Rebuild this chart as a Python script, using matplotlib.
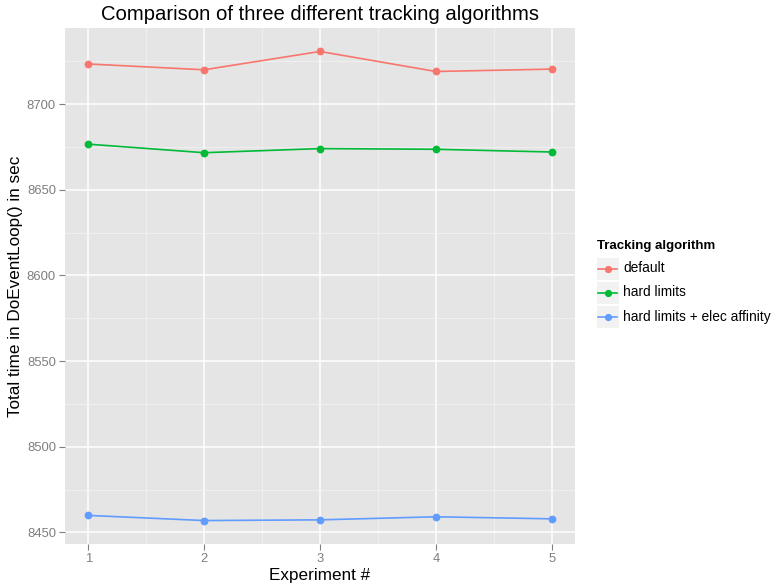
import matplotlib
matplotlib.use("Agg")
import matplotlib.pyplot as plt
from matplotlib.patches import Rectangle
from matplotlib.lines import Line2D

plt.rcParams["font.family"] = ["Liberation Sans", "DejaVu Sans"]

experiments = [1, 2, 3, 4, 5]
default = [8723.4, 8720.0, 8730.7, 8719.0, 8720.4]
hard_limits = [8676.6, 8671.6, 8674.0, 8673.6, 8672.0]
hard_limits_affinity = [8459.9, 8456.9, 8457.3, 8459.1, 8457.9]

series_names = ["default", "hard limits", "hard limits + elec affinity"]
series_values = [default, hard_limits, hard_limits_affinity]
colors = ["#F8766D", "#00BA38", "#619CFF"]

W, H = 772, 584
fig = plt.figure(figsize=(W / 100, H / 100), dpi=100)
ax = fig.add_axes([65 / W, 1 - 544 / H, 510 / W, 516 / H])

ax.set_facecolor("#E5E5E5")
for s in ax.spines.values():
    s.set_visible(False)

ax.set_xlim(0.8, 5.2)
ymin = min(min(v) for v in series_values)
ymax = max(max(v) for v in series_values)
pad = (ymax - ymin) * 0.05
ax.set_ylim(ymin - pad, ymax + pad)

ax.set_xticks(experiments)
ax.set_xticks([1.5, 2.5, 3.5, 4.5], minor=True)
ax.set_yticks([8450, 8500, 8550, 8600, 8650, 8700])
ax.set_yticks([8475, 8525, 8575, 8625, 8675, 8725], minor=True)
ax.grid(True, which="major", color="white", linewidth=1.1)
ax.grid(True, which="minor", color="#F2F2F2", linewidth=0.6)
ax.set_axisbelow(True)
ax.tick_params(which="major", length=4.5, color="#7F7F7F", labelcolor="#7F7F7F",
               labelsize=9.4, width=0.8, pad=2)
ax.tick_params(which="minor", length=0)

for name, vals, c in zip(series_names, series_values, colors):
    ax.plot(experiments, vals, color=c, linewidth=1.2, marker="o", markersize=4.6,
            label=name)

ax.set_title("Comparison of three different tracking algorithms", fontsize=14.6, pad=6)
ax.set_xlabel("Experiment #", fontsize=12.3, labelpad=2)
ax.set_ylabel("Total time in DoEventLoop() in sec", fontsize=12.3, labelpad=3)

# legend drawn by hand in ggplot style
fig.text(597 / W, 1 - 246 / H, "Tracking algorithm", fontsize=9.5, fontweight="bold",
         va="center", ha="left")
box_tops = [257, 281, 305]
for name, c, top in zip(series_names, colors, box_tops):
    fig.patches.append(Rectangle((596 / W, 1 - (top + 23) / H), 23 / W, 23 / H,
                                 transform=fig.transFigure, facecolor="#F2F2F2",
                                 edgecolor="white", linewidth=0.8))
    cy = 1 - (top + 11.5) / H
    fig.lines.append(Line2D([598 / W, 617 / W], [cy, cy], transform=fig.transFigure,
                            color=c, linewidth=1.2))
    fig.lines.append(Line2D([607.5 / W], [cy], transform=fig.transFigure, color=c,
                            marker="o", markersize=4.2))
    fig.text(623 / W, cy, name, fontsize=9.9, va="center", ha="left")

fig.savefig("out.png", dpi=100)
